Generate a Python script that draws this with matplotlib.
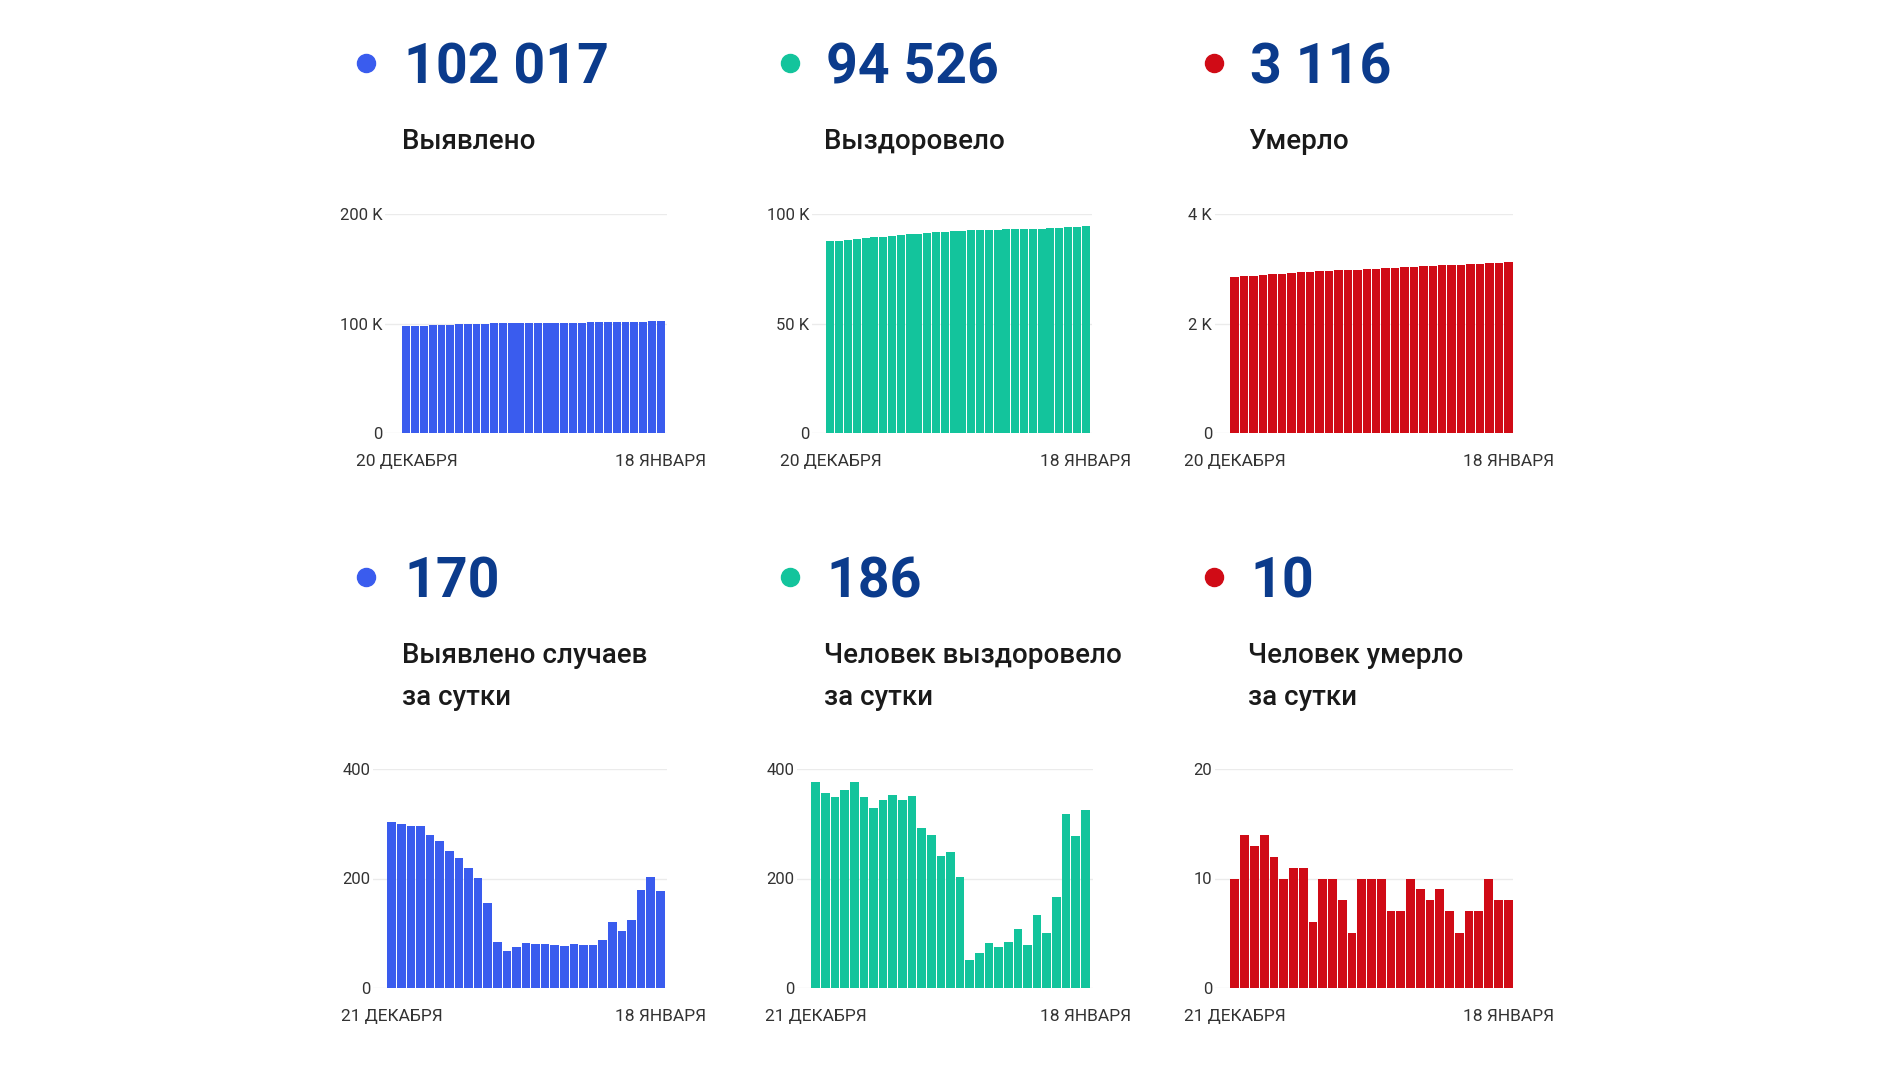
import matplotlib
matplotlib.use('Agg')
import matplotlib.pyplot as plt
from matplotlib.lines import Line2D

plt.rcParams['font.family'] = ['Roboto', 'DejaVu Sans']

W, H = 1900, 1069

# cumulative totals, 20 Dec .. 18 Jan
cases_total = [97351, 97655, 97955, 98251, 98546, 98825, 99094, 99344, 99582, 99801,
               100002, 100158, 100242, 100310, 100384, 100466, 100546, 100627, 100706, 100783,
               100863, 100942, 101020, 101108, 101229, 101333, 101457, 101636, 101839, 102017]
recovered_total = [87507, 87884, 88241, 88590, 88952, 89329, 89677, 90006, 90350, 90703,
                   91047, 91398, 91690, 91969, 92211, 92459, 92661, 92712, 92776, 92859,
                   92934, 93018, 93125, 93204, 93337, 93437, 93604, 93922, 94200, 94526]
deaths_total = [2850, 2860, 2874, 2887, 2901, 2913, 2923, 2934, 2945, 2951,
                2961, 2971, 2979, 2984, 2994, 3004, 3014, 3021, 3028, 3038,
                3047, 3055, 3064, 3071, 3076, 3083, 3090, 3100, 3108, 3116]

# daily numbers, 21 Dec .. 18 Jan
cases_daily = [304, 300, 296, 295, 279, 269, 250, 238, 219, 201, 156, 84, 68, 74, 82,
               80, 81, 79, 77, 80, 79, 78, 88, 121, 104, 124, 179, 203, 178]
recovered_daily = [377, 357, 349, 362, 377, 348, 329, 344, 353, 344, 351, 292, 279, 242, 248,
                   202, 51, 64, 83, 75, 84, 107, 79, 133, 100, 167, 318, 278, 326]
deaths_daily = [10, 14, 13, 14, 12, 10, 11, 11, 6, 10, 10, 8, 5, 10, 10,
                10, 7, 7, 10, 9, 8, 9, 7, 5, 7, 7, 10, 8, 8]

headline_numbers = ['102 017', '94 526', '3 116', '170', '186', '10']
headline_labels = [['Выявлено'], ['Выздоровело'], ['Умерло'],
                   ['Выявлено случаев', 'за сутки'],
                   ['Человек выздоровело', 'за сутки'],
                   ['Человек умерло', 'за сутки']]
top_dates = ['20 ДЕКАБРЯ', '18 ЯНВАРЯ']
bottom_dates = ['21 ДЕКАБРЯ', '18 ЯНВАРЯ']
yticks_list = [[0, 100000, 200000], [0, 50000, 100000], [0, 2000, 4000],
               [0, 200, 400], [0, 200, 400], [0, 10, 20]]
yticklabels_list = [['0', '100 K', '200 K'], ['0', '50 K', '100 K'], ['0', '2 K', '4 K'],
                    ['0', '200', '400'], ['0', '200', '400'], ['0', '10', '20']]

BLUE = '#3a5cee'
GREEN = '#13c49c'
RED = '#d00b16'
NAVY = '#0b3b8c'

series = [cases_total, recovered_total, deaths_total,
          cases_daily, recovered_daily, deaths_daily]
colors = [BLUE, GREEN, RED, BLUE, GREEN, RED]

# layout in pixels: (grid left, grid right, first bar left, last bar right)
top_y = (214, 433)
bot_y = (769, 988)
boxes = [(385, 667, 402, 665), (812, 1092, 826, 1090), (1215, 1513, 1230, 1513),
         (373, 667, 387, 665), (797, 1093, 811, 1090), (1215, 1513, 1230, 1513)]
dot_x = [366, 790, 1214]
num_x = [404, 826, 1250]

fig = plt.figure(figsize=(W / 100, H / 100), dpi=100)
fig.patch.set_facecolor('white')


def fx(x):
    return x / W


def fy(y):
    return 1 - y / H


for i in range(6):
    vals = series[i]
    n = len(vals)
    gl, gr, bl, br = boxes[i]
    yt, yb = top_y if i < 3 else bot_y
    ax = fig.add_axes([fx(gl), fy(yb), (gr - gl) / W, (yb - yt) / H])
    step = (br - bl) / n
    x0 = -0.5 - (bl - gl) / step
    x1 = n - 0.5 + (gr - br) / step
    ax.bar(range(n), vals, width=0.9, color=colors[i], zorder=2)
    ax.set_xlim(x0, x1)
    ax.set_ylim(0, yticks_list[i][-1])
    ax.set_yticks(yticks_list[i])
    ax.set_yticklabels(yticklabels_list[i], fontsize=12, color='#333333')
    ax.tick_params(axis='y', length=0, pad=2)
    ax.set_xticks([])
    ax.grid(axis='y', color='#ebebeb', linewidth=1, zorder=0)
    for s in ax.spines.values():
        s.set_visible(False)
    ax.set_facecolor('none')
    dates = top_dates if i < 3 else bottom_dates
    for j, lab in zip([0, n - 1], dates):
        ax.annotate(lab, xy=(j, 0), xycoords='data', xytext=(0, -33),
                    textcoords='offset pixels', ha='center', va='baseline',
                    fontsize=12.5, color='#333333', annotation_clip=False)

    # headline block
    col = i % 3
    if i < 3:
        num_base, lab_base = 83, [149]
        dot_y = 63
    else:
        num_base, lab_base = 598, [663, 705]
        dot_y = 577
    fig.add_artist(Line2D([fx(dot_x[col])], [fy(dot_y)], marker='o', markersize=13,
                          color=colors[i], transform=fig.transFigure))
    fig.text(fx(num_x[col]), fy(num_base), headline_numbers[i], fontsize=40,
             fontweight='bold', color=NAVY, ha='left', va='baseline')
    for line, yb_ in zip(headline_labels[i], lab_base):
        fig.text(fx(num_x[col] - 2), fy(yb_), line, fontsize=20, fontweight='medium',
                 color='#1a1a1a', ha='left', va='baseline')

fig.savefig('out.png', dpi=100, facecolor='white')
